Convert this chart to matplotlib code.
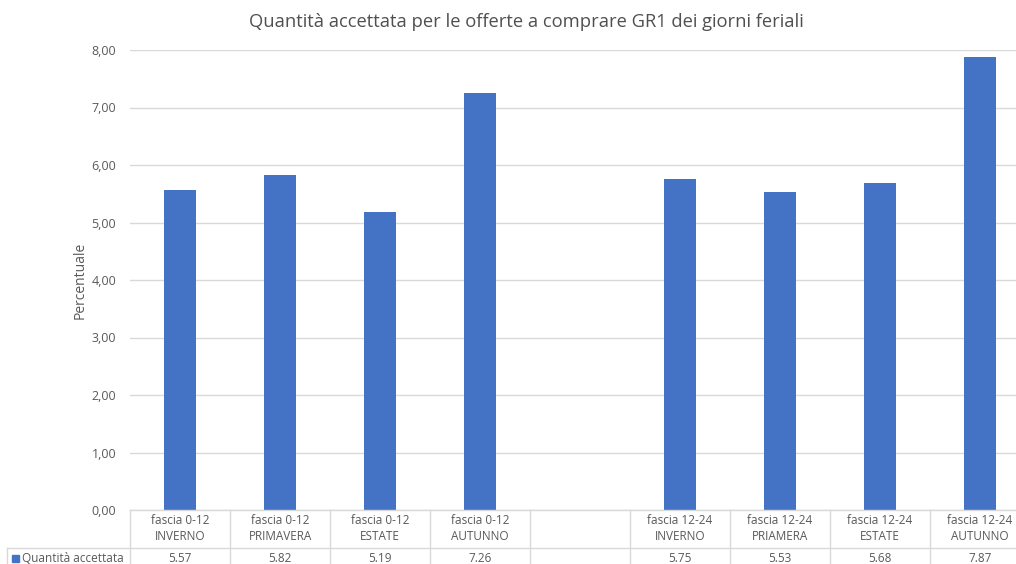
import matplotlib
matplotlib.use("Agg")
import matplotlib.pyplot as plt
from matplotlib.transforms import blended_transform_factory
import numpy as np

title = "Quantità accettata per le offerte a comprare GR1 dei giorni feriali"
categories = ["fascia 0-12\nINVERNO", "fascia 0-12\nPRIMAVERA", "fascia 0-12\nESTATE",
              "fascia 0-12\nAUTUNNO", "", "fascia 12-24\nINVERNO", "fascia 12-24\nPRIAMERA",
              "fascia 12-24\nESTATE", "fascia 12-24\nAUTUNNO"]
values = [5.57, 5.82, 5.19, 7.26, None, 5.75, 5.53, 5.68, 7.87]
value_labels = ["5.57", "5.82", "5.19", "7.26", "", "5.75", "5.53", "5.68", "7.87"]
series_name = "Quantità accettata"
yticks = [0, 1, 2, 3, 4, 5, 6, 7, 8]
ylabel = "Percentuale"

plt.rcParams['font.family'] = ['Open Sans', 'DejaVu Sans']

W, H = 1016, 564
fig = plt.figure(figsize=(W / 100, H / 100), dpi=100)
ax = fig.add_axes([130 / W, 54 / H, 900 / W, 460 / H])

bar_color = "#4472C4"
grid_color = "#D9D9D9"
text_color = "#595959"

x = np.arange(len(categories))
for xi, v in zip(x, values):
    if v is not None:
        ax.bar(xi, v, width=0.32, color=bar_color, zorder=3)

ax.set_xlim(-0.5, len(categories) - 0.5)
ax.set_ylim(0, 8)
ax.set_yticks(yticks)
ax.set_yticklabels([f"{t:.2f}".replace(".", ",") for t in yticks], fontsize=9, color=text_color)
ax.tick_params(axis='y', length=0, pad=10)
ax.set_xticks([])
ax.grid(axis='y', color=grid_color, linewidth=1, zorder=0)
for s in ax.spines.values():
    s.set_visible(False)
ax.set_ylabel(ylabel, fontsize=10, color=text_color, labelpad=3)

fig.text(526 / W, 1 - 22 / H, title, ha='center', va='center', fontsize=13.2, color="#505050")

# Data table below the axes
tr = blended_transform_factory(ax.transData, fig.transFigure)
def fy(py):
    return 1 - py / H

line_kw = dict(color=grid_color, linewidth=1, clip_on=False)
fig.add_artist(plt.Line2D([130 / W, 1], [fy(510), fy(510)], transform=fig.transFigure, **line_kw))
fig.add_artist(plt.Line2D([7 / W, 1], [fy(548), fy(548)], transform=fig.transFigure, **line_kw))
for b in np.arange(-0.5, len(categories) + 0.5, 1.0):
    fig.add_artist(plt.Line2D([b, b], [fy(510), 0], transform=tr, **line_kw))
fig.add_artist(plt.Line2D([7 / W, 7 / W], [fy(548), 0], transform=fig.transFigure, **line_kw))

for xi, cat, lab in zip(x, categories, value_labels):
    if cat:
        fig.text(xi, fy(529), cat, transform=tr, ha='center', va='center', fontsize=8.5,
                 color=text_color, linespacing=1.3)
    if lab:
        fig.text(xi, fy(558), lab, transform=tr, ha='center', va='center', fontsize=8.5,
                 color=text_color)

fig.patches.append(plt.Rectangle((12 / W, fy(562)), 7 / W, 7 / H, transform=fig.transFigure,
                                 color=bar_color, figure=fig))
fig.text(22 / W, fy(558), series_name, ha='left', va='center', fontsize=8.5, color=text_color)

fig.savefig("out.png", dpi=100)
